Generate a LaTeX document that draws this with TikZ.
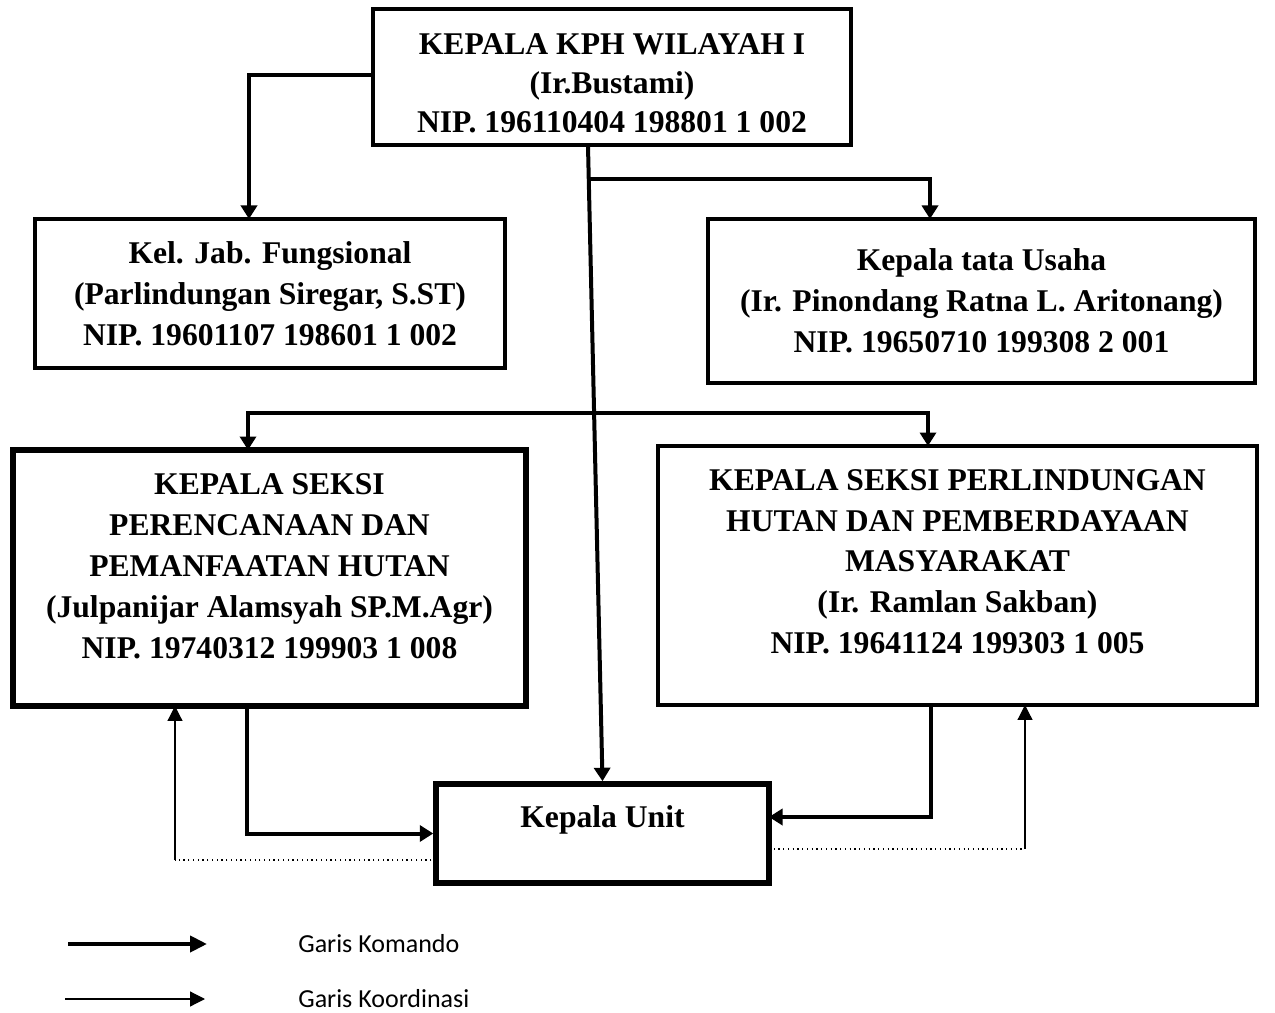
\documentclass[tikz,border=0pt]{standalone}
\usepackage{fontspec}
\setmainfont{Liberation Serif}
\newfontfamily\legendfont{Carlito}
\usetikzlibrary{arrows.meta}

\begin{document}
\begin{tikzpicture}[x=0.02cm,y=-0.02cm]
	\tikzset{
		box/.style = {draw, line width=0.08cm, align=center, inner sep=0pt,
			font=\bfseries\fontsize{18}{23.3}\selectfont},
		cmd/.style = {line width=0.08cm, -{Triangle[length=0.27cm,width=0.32cm]}},
		crd/.style = {line width=0.7pt, -{Triangle[length=0.3cm,width=0.3cm]}},
		dots/.style = {line width=0.7pt, dotted},
		legend/.style = {anchor=west, inner sep=0pt, font=\legendfont\fontsize{14.8}{17}\selectfont}
	}
	\useasboundingbox (0,0) rectangle (1275,1013);
	% boxes
	\node [box, minimum width=9.56cm, minimum height=2.72cm, text height=2.24cm,
		font=\bfseries\fontsize{18}{22.2}\selectfont] (kepala) at (612,77)
		{KEPALA KPH WILAYAH I\\(Ir.Bustami)\\NIP. 196110404 198801 1 002};
	\node [box, minimum width=9.4cm, minimum height=2.98cm] (fungsional) at (270,293.5)
		{Kel. Jab. Fungsional\\(Parlindungan Siregar, S.ST)\\NIP. 19601107 198601 1 002};
	\node [box, minimum width=10.94cm, minimum height=3.28cm] (tatausaha) at (981.5,301)
		{Kepala tata Usaha\\(Ir. Pinondang Ratna L. Aritonang)\\NIP. 19650710 199308 2 001};
	\node [box, line width=0.11cm, minimum width=10.26cm, minimum height=5.12cm, text depth=0.48cm]
		(perencanaan) at (269.5,578)
		{KEPALA SEKSI\\PERENCANAAN DAN\\PEMANFAATAN HUTAN\\(Julpanijar Alamsyah SP.M.Agr)\\NIP. 19740312 199903 1 008};
	\node [box, minimum width=11.98cm, minimum height=5.18cm, text depth=0.56cm]
		(perlindungan) at (957.5,575.5)
		{KEPALA SEKSI PERLINDUNGAN\\HUTAN DAN PEMBERDAYAAN\\MASYARAKAT\\(Ir. Ramlan Sakban)\\NIP. 19641124 199303 1 005};
	\node [box, line width=0.11cm, minimum width=6.66cm, minimum height=1.98cm, text depth=0.66cm]
		(unit) at (602.5,833.5) {Kepala Unit};
	% points on the lines
	\coordinate (fin) at (249,219);
	\coordinate (vtop) at (588,146);
	\coordinate (br1) at (589,179);
	\coordinate (tuin) at (930,219);
	\coordinate (br2) at (595,413);
	\coordinate (pein) at (248,450);
	\coordinate (plin) at (928,446);
	\coordinate (peout) at (247,706);
	\coordinate (plout) at (931,705);
	\coordinate (unitR) at (769,817);
	\coordinate (unitL2) at (436,860);
	\coordinate (unitR2) at (769,849);
	\coordinate (crdL) at (175,860);
	\coordinate (crdR) at (1025,849);
	\coordinate (peL) at (175,706);
	\coordinate (plR) at (1025,705);
	% garis komando
	\draw [cmd] (kepala.west |- 0,75) -| (fin);
	\draw [cmd] (vtop) -- (unit.north);
	\draw [cmd] (br1) -| (tuin);
	\draw [cmd] (br2) -| (pein);
	\draw [cmd] (br2) -| (plin);
	\draw [cmd] (peout) |- (unit.west);
	\draw [cmd] (plout) |- (unitR);
	% garis koordinasi
	\draw [dots] (unitL2) -- (crdL);
	\draw [crd] (crdL) -- (peL);
	\draw [dots] (unitR2) -- (crdR);
	\draw [crd] (crdR) -- (plR);
	% legend
	\coordinate (k1) at (68,944);
	\coordinate (k2) at (207,944);
	\coordinate (c1) at (65,999);
	\coordinate (c2) at (205,999);
	\draw [cmd, -{Triangle[length=0.34cm,width=0.32cm]}] (k1) -- (k2);
	\draw [crd] (c1) -- (c2);
	\node [legend] (lkomando) at (298,944) {Garis Komando};
	\node [legend] (lkoord) at (298,999) {Garis Koordinasi};
\end{tikzpicture}
\end{document}
